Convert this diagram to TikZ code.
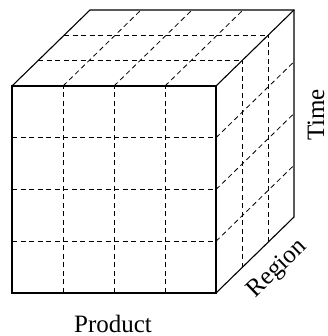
\documentclass[tikz,border=0pt]{standalone}
\usepackage{fontspec}
\setmainfont{Liberation Serif}
\usetikzlibrary{calc}
\tikzset{
  cedge/.style={line width=1.1pt,line join=miter},
  cgrid/.style={line width=0.8pt,dash pattern=on 5pt off 3.5pt},
  axlbl/.style={font=\fontsize{25}{27}\selectfont,inner sep=0pt},
}
\begin{document}
\begin{tikzpicture}[x=1pt,y=1pt]
  \useasboundingbox (0,0) rectangle (328,336);
  % front face corners and depth offset
  \coordinate (fbl) at (12,43);
  \coordinate (fbr) at (216,43);
  \coordinate (ftr) at (216,250);
  \coordinate (ftl) at (12,250);
  \coordinate (dep) at (78,76);
  \coordinate (btl) at ($(ftl)+(dep)$);
  \coordinate (btr) at ($(ftr)+(dep)$);
  \coordinate (bbr) at ($(fbr)+(dep)$);
  % dashed cell lines
  \foreach \i in {1,2,3}{
    % front face
    \draw[cgrid] ($(fbl)!\i/4!(fbr)$) -- ($(ftl)!\i/4!(ftr)$);
    \draw[cgrid] ($(fbl)!\i/4!(ftl)$) -- ($(fbr)!\i/4!(ftr)$);
    % top face, columns run back
    \draw[cgrid] ($(ftl)!\i/4!(ftr)$) -- ($(btl)!\i/4!(btr)$);
    % right face, rows run back
    \draw[cgrid] ($(fbr)!\i/4!(ftr)$) -- ($(bbr)!\i/4!(btr)$);
  }
  \foreach \i in {1,2}{
    % top face, depth slices
    \draw[cgrid] ($(ftl)!\i/3!(btl)$) -- ($(ftr)!\i/3!(btr)$);
    % right face, depth slices
    \draw[cgrid] ($(fbr)!\i/3!(bbr)$) -- ($(ftr)!\i/3!(btr)$);
  }
  % cube outline
  \draw[cedge] (fbl) rectangle (ftr);
  \draw[cedge] (ftl) -- (btl) -- (btr) -- (bbr) -- (fbr);
  \draw[cedge] (ftr) -- (btr);
  % dimension names
  \node[axlbl,anchor=base] (prod) at (113,4) {Product};
  \node[axlbl,rotate=44] (reg) at (278,67) {Region};
  \node[axlbl,rotate=90,anchor=base,text depth=0pt] (tim) at (324,221) {Time};
\end{tikzpicture}
\end{document}
